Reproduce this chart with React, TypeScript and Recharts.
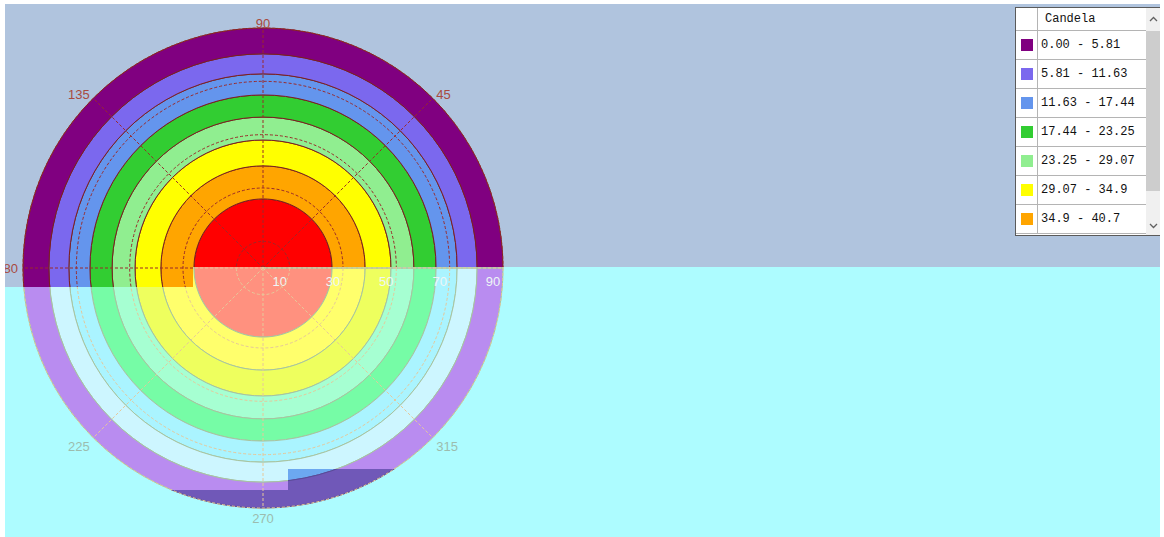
import React from "react";
import {
  RadialBarChart, RadialBar, RadarChart, PolarAngleAxis, PolarRadiusAxis, PolarGrid,
} from "recharts";

// legend bands, outermost (lowest candela) first
const bandLabels = [
  "0.00 - 5.81", "5.81 - 11.63", "11.63 - 17.44", "17.44 - 23.25",
  "23.25 - 29.07", "29.07 - 34.9", "34.9 - 40.7",
];
const bandColors = ["#800080", "#7b68ee", "#6495ed", "#32cd32", "#90ee90", "#ffff00", "#ffa500", "#ff0000"];
// same bands as they look under the cyan wash / the dark strip at the bottom
const washedColors = ["#b98cf0", "#cdf6ff", "#aaf4ff", "#76fca6", "#a6ffd2", "#eeff5e", "#ffff6c", "#ff917f"];
const darkColors = ["#7058b8", "#6ca8f0", "#78c4f8", "#6ad0a0", "#90d8c0", "#d8e070", "#e0e070", "#e08070"];
// outer edge of every band, in degrees of the radial axis (0..90)
const bandOuterDeg = [90, 80.3, 72.8, 64.9, 56.6, 48.0, 38.3, 25.9];
const angleTicks = [0, 45, 90, 135, 180, 225, 270, 315];
const radiusTicks = [10, 30, 50, 70, 90];
const RADIUS_MAX = 90;

const W = 1155;
const H = 533;
const CX = 258;
const CY = 264;
const R = 240;

const stackRow: Record<string, string | number> = { name: "all" };
bandOuterDeg.forEach((outer, i) => {
  stackRow["b" + i] = +(outer - (bandOuterDeg[i + 1] ?? 0)).toFixed(2);
});
const rows = [stackRow];
const angleRows = angleTicks.map((a) => ({ angle: a }));

type Look = {
  colors: string[];
  contour: string;
  grid: string;
  angleLabel: string;
  radiusLabel: string;
};

const TOP: Look = { colors: bandColors, contour: "#7a2020", grid: "#9a2a2a", angleLabel: "#a84a40", radiusLabel: "#a84a40" };
const WASHED: Look = { colors: washedColors, contour: "#a8c4a0", grid: "#e6c89a", angleLabel: "#9cbcae", radiusLabel: "#eef6f6" };
const DARK: Look = { colors: darkColors, contour: "#5a4a98", grid: "#e6c89a", angleLabel: "#9cbcae", radiusLabel: "#eef6f6" };

const labelFont = '"Liberation Sans", Arial, sans-serif';

function PolarLayer({ look, angles, radius }: { look: Look; angles: number[]; radius: boolean }) {
  const angleTick = (p: any) => {
    if (!angles.includes(Number(p.payload.value))) return <g />;
    const dx = p.x - CX;
    const dy = p.y - CY;
    const anchor = dx > 20 ? "start" : dx < -20 ? "end" : "middle";
    const baseline = dy > 20 ? "hanging" : "central";
    return (
      <text x={p.x} y={p.y} textAnchor={anchor} dominantBaseline={baseline}
        fill={look.angleLabel} fontSize={13} fontFamily={labelFont}>
        {p.payload.value}
      </text>
    );
  };
  const radiusTick = (p: any) => {
    if (!radius) return <g />;
    return (
      <text x={p.x - 10} y={p.y + 13} textAnchor="middle" dominantBaseline="central"
        fill={look.radiusLabel} fontSize={13} fontFamily={labelFont}>
        {p.payload.value}
      </text>
    );
  };
  return (
    <div style={{ position: "relative", width: W, height: H }}>
      <div style={{ position: "absolute", left: 0, top: 0 }}>
        <RadialBarChart width={W} height={H} data={rows} cx={CX} cy={CY} innerRadius={0} outerRadius={R}
          startAngle={0} endAngle={360} layout="centric" barCategoryGap={0} barGap={0}
          margin={{ top: 0, right: 0, bottom: 0, left: 0 }}>
          <PolarAngleAxis type="category" dataKey="name" tick={false} axisLine={false} tickLine={false} />
          <PolarRadiusAxis type="number" domain={[0, RADIUS_MAX]} ticks={radiusTicks} angle={0}
            axisLine={false} tickLine={false} tick={radiusTick} />
          {bandOuterDeg.map((_, k) => {
            const i = bandOuterDeg.length - 1 - k; // innermost first
            return (
              <RadialBar key={i} dataKey={"b" + i} stackId="rings" fill={look.colors[i]}
                stroke={look.contour} strokeWidth={1} isAnimationActive={false} />
            );
          })}
        </RadialBarChart>
      </div>
      <div style={{ position: "absolute", left: 0, top: 0 }}>
        <RadarChart width={W} height={H} data={angleRows} cx={CX} cy={CY} outerRadius={R}
          startAngle={45} endAngle={405} margin={{ top: 0, right: 0, bottom: 0, left: 0 }}>
          <PolarGrid gridType="circle" stroke={look.grid} strokeDasharray="3 2"
            polarAngles={angleTicks} polarRadius={radiusTicks.map((t) => (t / RADIUS_MAX) * R)} />
          <PolarAngleAxis dataKey="angle" tickSize={5} axisLine={false} tickLine={false} tick={angleTick} />
        </RadarChart>
      </div>
    </div>
  );
}

function Clip({ left, top, width, height, bg, look, angles, radius }: any) {
  return (
    <div style={{ position: "absolute", left, top, width, height, overflow: "hidden", background: bg }}>
      <div style={{ position: "absolute", left: -left, top: -top }}>
        <PolarLayer look={look} angles={angles} radius={radius} />
      </div>
    </div>
  );
}

function BandLegend() {
  const mono = '"Liberation Mono", "DejaVu Sans Mono", monospace';
  return (
    <div style={{
      position: "absolute", left: 1010, top: 3, width: 145, height: 227, background: "#fff",
      border: "1px solid #5a5a5a", overflow: "hidden", fontFamily: mono, fontSize: 12, color: "#111",
    }}>
      <div style={{ display: "flex", height: 22, borderBottom: "1px solid #b4b4b4", width: 130 }}>
        <div style={{ width: 21, borderRight: "1px solid #b4b4b4" }} />
        <div style={{ paddingLeft: 7, lineHeight: "22px" }}>Candela</div>
      </div>
      {bandLabels.map((label, i) => (
        <div key={label} style={{ display: "flex", height: 28, borderBottom: "1px solid #b4b4b4", width: 130 }}>
          <div style={{ width: 21, borderRight: "1px solid #b4b4b4", position: "relative" }}>
            <div style={{ position: "absolute", left: 5, top: 8, width: 12, height: 12, background: bandColors[i] }} />
          </div>
          <div style={{ paddingLeft: 3, lineHeight: "28px", whiteSpace: "nowrap" }}>{label}</div>
        </div>
      ))}
      <div style={{ position: "absolute", right: 0, top: 0, width: 15, height: "100%", background: "#f0f0f0" }}>
        <div style={{ position: "absolute", left: 0, top: 23, width: 15, height: 160, background: "#cdcdcd" }} />
        <svg style={{ position: "absolute", left: 3, top: 8 }} width={9} height={6}>
          <polyline points="1,5 4.5,1.5 8,5" fill="none" stroke="#606060" strokeWidth={1.3} />
        </svg>
        <svg style={{ position: "absolute", left: 3, bottom: 6 }} width={9} height={6}>
          <polyline points="1,1 4.5,4.5 8,1" fill="none" stroke="#606060" strokeWidth={1.3} />
        </svg>
      </div>
    </div>
  );
}

export default function App() {
  const cyan = "#adfcff";
  return (
    <div style={{ position: "fixed", left: 0, top: 0, width: 1164, height: 537, background: "#fff", overflow: "hidden" }}>
      <div style={{ position: "absolute", left: 5, top: 4, width: W, height: H, background: "#b0c4de", overflow: "hidden" }}>
        <div style={{ position: "absolute", left: 0, top: 0 }}>
          <PolarLayer look={TOP} angles={[45, 90, 135, 180]} radius={false} />
        </div>
        <Clip left={188} top={263} width={W - 188} height={H - 263} bg={cyan} look={WASHED} angles={[270, 315]} radius={true} />
        <Clip left={0} top={283} width={188} height={H - 283} bg={cyan} look={WASHED} angles={[225]} radius={false} />
        <Clip left={283} top={465} width={110} height={21} bg="transparent" look={DARK} angles={[]} radius={false} />
        <Clip left={155} top={486} width={238} height={25} bg="transparent" look={DARK} angles={[]} radius={false} />
        <BandLegend />
      </div>
    </div>
  );
}
